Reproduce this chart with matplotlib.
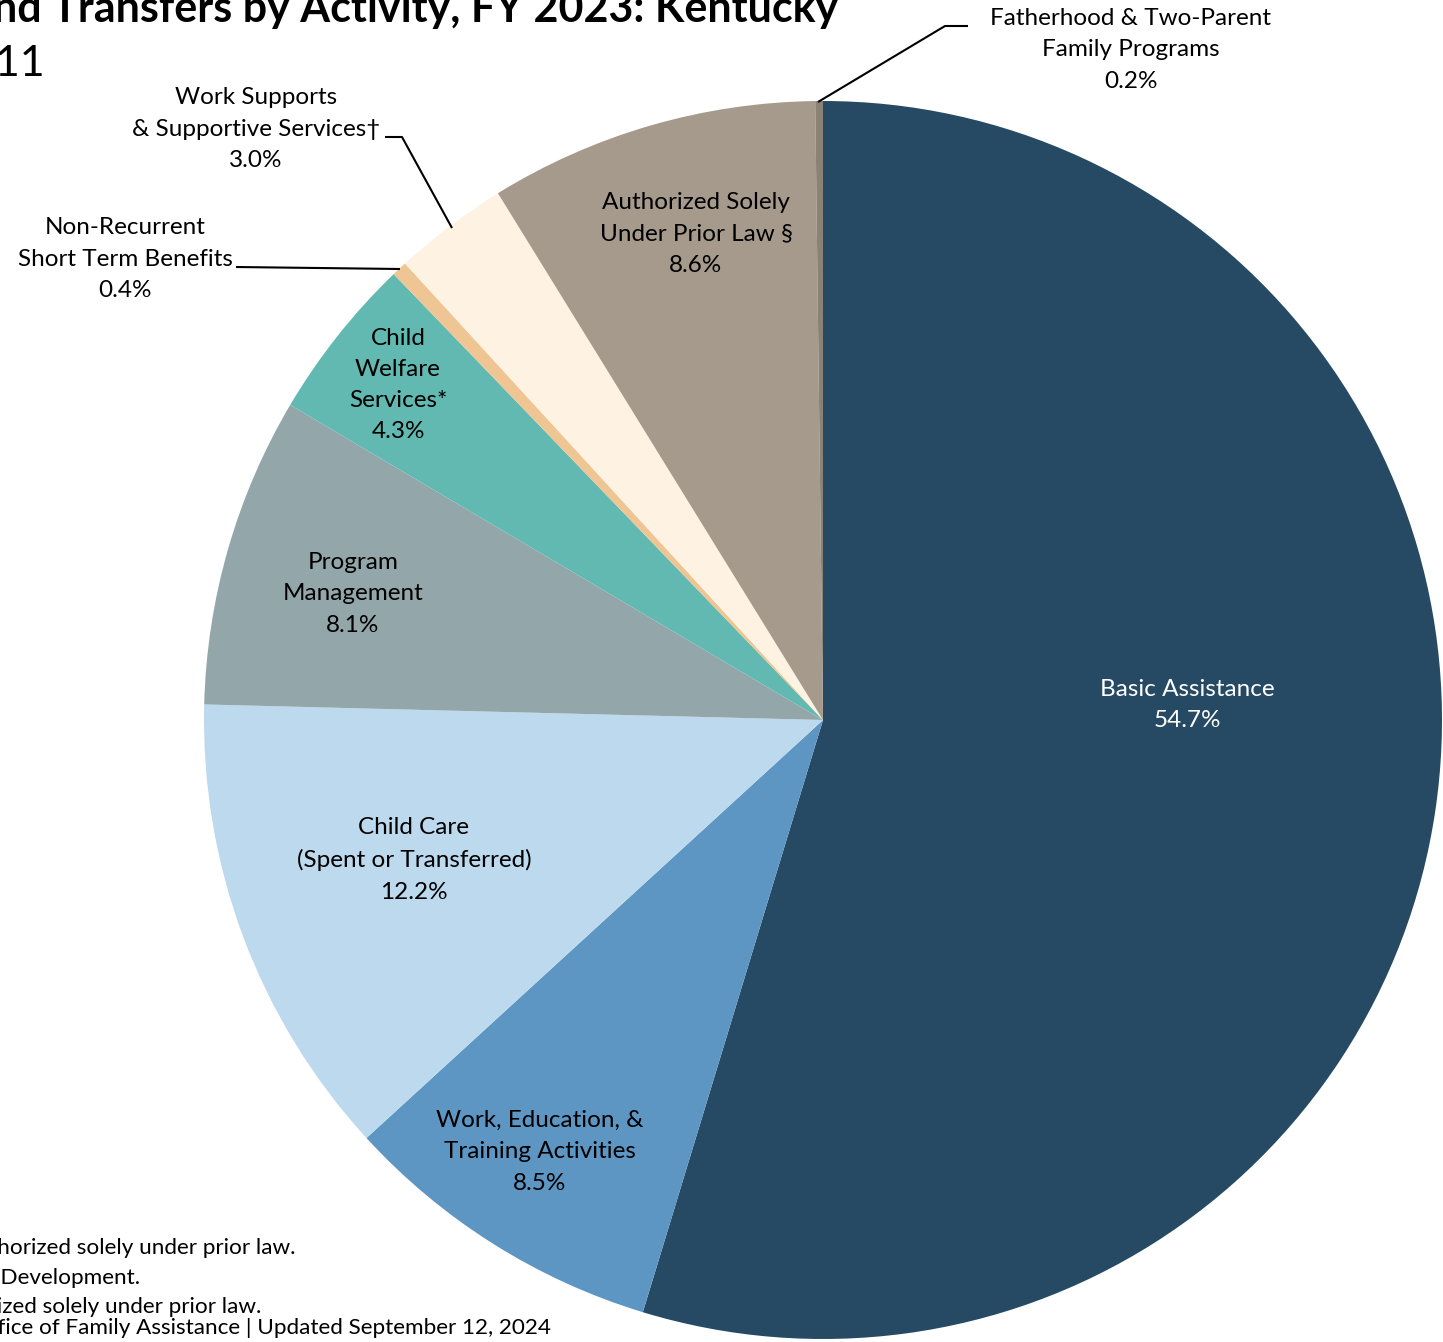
import matplotlib.pyplot as plt
import numpy as np

plt.rcParams['font.family'] = ['Lato', 'DejaVu Sans']

categories = ["Basic Assistance", "Work, Education, &\nTraining Activities",
              "Child Care\n(Spent or Transferred)", "Program\nManagement",
              "Child\nWelfare\nServices*", "Non-Recurrent\nShort Term Benefits",
              "Work Supports\n& Supportive Services\u2020",
              "Authorized Solely\nUnder Prior Law \u00a7",
              "Fatherhood & Two-Parent\nFamily Programs"]
shares = [54.7, 8.5, 12.2, 8.1, 4.3, 0.4, 3.0, 8.6, 0.2]
colors = ["#264A64", "#5E96C3", "#BCD9ED", "#93A7AB", "#62B9B2",
          "#EEC593", "#FEF3E3", "#A69A8D", "#8C8175"]

title = "TANF and MOE Spending and Transfers by Activity, FY 2023: Kentucky"
subtitle = "Total Funds Used: $261,408,511"
notes = ["\u00a7 Includes spending on activities authorized solely under prior law.",
         "\u2020 Includes Individual Development.",
         "* Includes child welfare services authorized solely under prior law.",
         "Source: Office of Family Assistance | Updated September 12, 2024"]

W, H = 1443, 1342
cx, cy, R = 823, 720, 619

fig = plt.figure(figsize=(W / 100, H / 100), dpi=100)
ax = fig.add_axes([(cx - R) / W, (H - cy - R) / H, 2 * R / W, 2 * R / H])

wedges, _ = ax.pie(shares, colors=colors, startangle=90, counterclock=False,
                   radius=1.0, center=(0, 0))
ax.set_xlim(-1, 1)
ax.set_ylim(-1, 1)
ax.set_aspect('equal')
ax.axis('off')


def px(x, y):
    return ((x - cx) / R, (cy - y) / R)


# label centres in pixels (inside labels and outside labels)
label_px = [(1187, 705), (540, 1152), (414, 860), (353, 594), (398, 385),
            (125, 259), (256, 129), (696, 234), (1131, 50)]
fs = 17.5
for i, (cat, val) in enumerate(zip(categories, shares)):
    x, y = px(*label_px[i])
    col = "white" if i == 0 else "black"
    ax.text(x, y, f"{cat}\n{val}%", ha='center', va='center', fontsize=fs,
            color=col, linespacing=1.6, clip_on=False)

# leader lines for small slices
def leader(points):
    pts = [px(*p) for p in points]
    xs, ys = zip(*pts)
    ax.plot(xs, ys, color='black', lw=1.5, clip_on=False, solid_capstyle='butt')

leader([(236, 267), (400, 269)])
leader([(385, 137), (402, 137), (452, 228)])
leader([(818, 102), (945, 26), (968, 26)])

fig.text(838 / W, 1 - 9 / H, title, ha='right', va='center', fontsize=31,
         fontweight='bold')
fig.text(45 / W, 1 - 63 / H, subtitle, ha='right', va='center', fontsize=31)

note_y = [1248, 1278, 1307, 1328]
note_x = [296, 140, 261, 551]
for t, x, y in zip(notes, note_x, note_y):
    fig.text(x / W, 1 - y / H, t, ha='right', va='center', fontsize=16.2)

fig.savefig("out.png", dpi=100)
